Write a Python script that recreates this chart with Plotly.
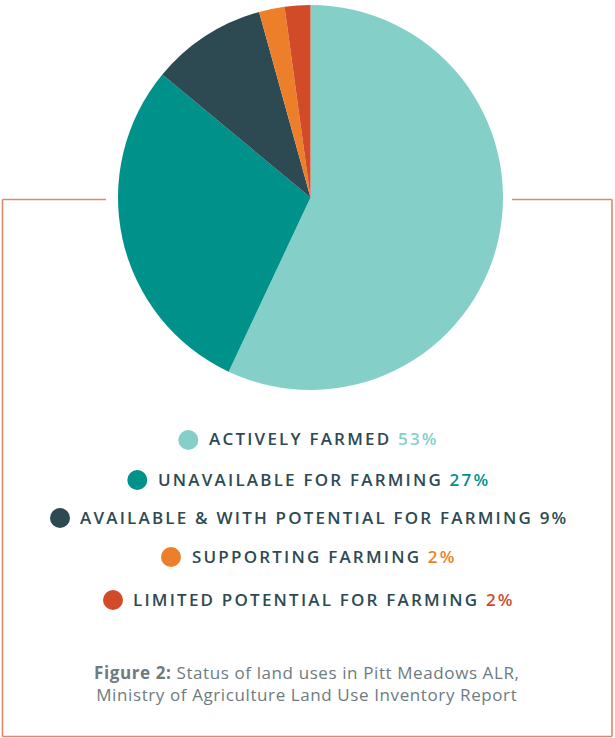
import plotly.graph_objects as go

categories = ["ACTIVELY FARMED", "UNAVAILABLE FOR FARMING",
              "AVAILABLE & WITH POTENTIAL FOR FARMING",
              "SUPPORTING FARMING", "LIMITED POTENTIAL FOR FARMING"]
values = [53, 27, 9, 2, 2]
pct_colors = ["#84D0C9", "#00918A", "#2D4A52", "#EE7F2A", "#D14B29"]
caption_bold = "Figure 2:"
caption_rest = " Status of land uses in Pitt Meadows ALR,<br>Ministry of Agriculture Land Use Inventory Report"

W, H = 615, 738
TEXT = "#2D4A52"
FRAME = "#E0876A"

fig = go.Figure()
fig.add_trace(go.Pie(
    labels=categories, values=values, sort=False, direction="clockwise",
    rotation=0, marker=dict(colors=pct_colors, line=dict(width=0)),
    textinfo="none", hoverinfo="label+percent", showlegend=False,
    domain=dict(x=[118 / W, 503 / W], y=[1 - 390 / H, 1 - 5 / H]),
))

annotations = []
shapes = []
row_y = [440, 480, 518, 557, 600]
dot_x = [188.3, 137.3, 60, 171, 113]
R = 10
for cat, v, c, y, dx in zip(categories, values, pct_colors, row_y, dot_x):
    pc = TEXT if c == "#2D4A52" else c
    txt = (f"<span style='letter-spacing:2.2px'>{cat.replace('&', '&amp;')} "
           f"<span style='color:{pc}'>{v}%</span></span>")
    annotations.append(dict(
        x=324.3 / W, y=1 - (y - 1) / H, xref="paper", yref="paper", text=txt,
        showarrow=False, xanchor="center", yanchor="middle",
        font=dict(family="Open Sans", size=17, color=TEXT, weight=600),
    ))
    shapes.append(dict(type="circle", xref="paper", yref="paper",
                       x0=(dx - R) / W, x1=(dx + R) / W,
                       y0=1 - (y + R) / H, y1=1 - (y - R) / H,
                       fillcolor=c, line=dict(width=0)))

annotations.append(dict(
    x=307 / W, y=1 - 683 / H, xref="paper", yref="paper",
    text=f"<span style='letter-spacing:0.6px'><b>{caption_bold}</b>{caption_rest}</span>",
    showarrow=False, xanchor="center", yanchor="middle", align="center",
    font=dict(family="Open Sans", size=17, color="#6E7B80"),
))

def seg(x0, y0, x1, y1):
    shapes.append(dict(type="line", xref="paper", yref="paper",
                       x0=x0 / W, y0=1 - y0 / H, x1=x1 / W, y1=1 - y1 / H,
                       line=dict(color=FRAME, width=1.6)))
seg(2.5, 199.5, 106, 199.5)
seg(512, 199.5, 612, 199.5)
seg(2.5, 199.5, 2.5, 736.5)
seg(612, 199.5, 612, 736.5)
seg(2.5, 736.5, 612, 736.5)

fig.update_layout(
    width=W, height=H, margin=dict(l=0, r=0, t=0, b=0),
    paper_bgcolor="white", plot_bgcolor="white",
    annotations=annotations, shapes=shapes,
)
fig.write_html("out.html", config={"displayModeBar": False},
               post_script="document.body.style.margin='0';document.body.style.overflow='hidden';")
